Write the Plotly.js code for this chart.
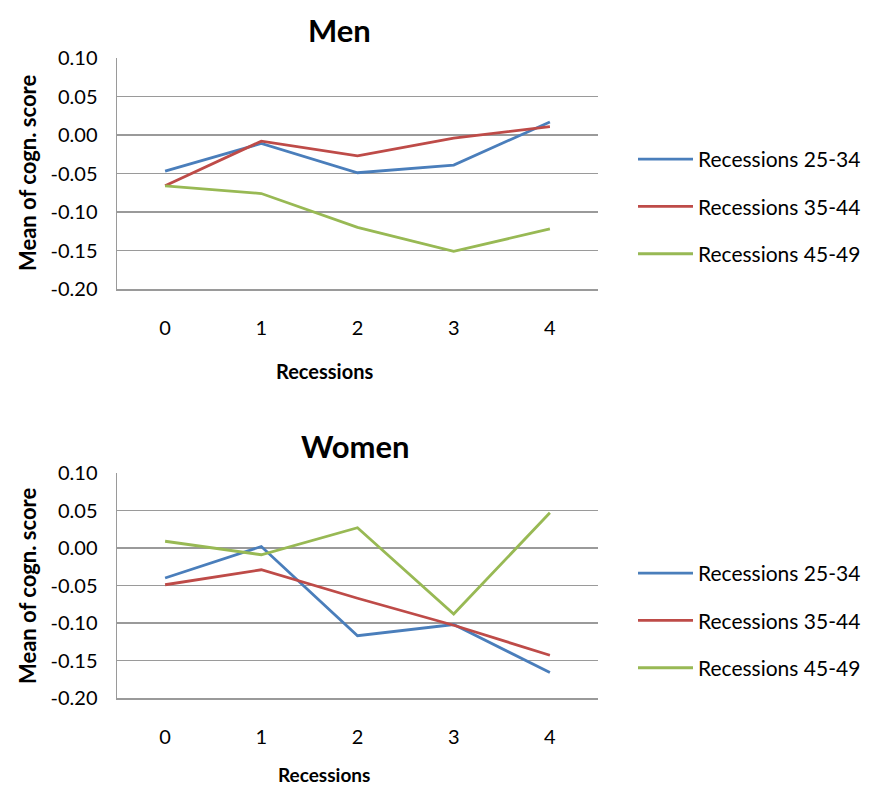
<!DOCTYPE html>
<html>
<head>
<meta charset="utf-8">
<script src="https://cdn.plot.ly/plotly-3.0.1.min.js"></script>
<style>html,body{margin:0;padding:0;background:#fff;}#chart{width:873px;height:788px;}</style>
</head>
<body>
<div id="chart"></div>
<script>
const categories = [0, 1, 2, 3, 4];
const seriesNames = ["Recessions 25-34", "Recessions 35-44", "Recessions 45-49"];
const menValues25_34 = [-0.047, -0.011, -0.049, -0.039, 0.017];
const menValues35_44 = [-0.066, -0.008, -0.027, -0.004, 0.011];
const menValues45_49 = [-0.066, -0.076, -0.120, -0.151, -0.122];
const womenValues25_34 = [-0.040, 0.002, -0.117, -0.102, -0.166];
const womenValues35_44 = [-0.049, -0.029, -0.067, -0.103, -0.143];
const womenValues45_49 = [0.009, -0.009, 0.027, -0.088, 0.047];
const yTickVals = [0.10, 0.05, 0.00, -0.05, -0.10, -0.15, -0.20];
const yTickText = ["0.10", "0.05", "0.00", "-0.05", "-0.10", "-0.15", "-0.20"];

const colors = ["#4a7ebb", "#be4b48", "#98b954"];
const FONT = "Lato, 'Open Sans', sans-serif";

function mk(y, i, xa, ya, leg) {
  return {x: categories, y: y, name: seriesNames[i], type: "scatter", mode: "lines",
    line: {color: colors[i], width: 2.8}, xaxis: xa, yaxis: ya, legend: leg,
    legendgroup: leg + i, hoverinfo: "skip"};
}
const traces = [
  mk(menValues25_34, 0, "x", "y", "legend"),
  mk(menValues35_44, 1, "x", "y", "legend"),
  mk(menValues45_49, 2, "x", "y", "legend"),
  mk(womenValues25_34, 0, "x2", "y2", "legend2"),
  mk(womenValues35_44, 1, "x2", "y2", "legend2"),
  mk(womenValues45_49, 2, "x2", "y2", "legend2")
];

const W = 873, H = 788;
const px = v => v / W, py = v => 1 - v / H;

function xax(anchor) {
  return {domain: [px(117), px(598)], range: [-0.5, 4.5], tickvals: categories,
    ticktext: categories.map(String), showgrid: false, zeroline: false,
    showline: true, linecolor: "#9a9a9a", linewidth: 1.5, ticks: "",
    ticklabelstandoff: 20, tickfont: {family: FONT, size: 20, color: "#000"},
    anchor: anchor, fixedrange: true};
}
function yax(top, bottom, anchor) {
  return {domain: [py(bottom), py(top)], range: [-0.2, 0.1], tickvals: yTickVals,
    ticktext: yTickText, showgrid: true, gridcolor: "#9a9a9a", gridwidth: 1.5,
    zeroline: false, showline: true, linecolor: "#9a9a9a", linewidth: 1.5, ticks: "",
    ticklabelstandoff: 14, tickfont: {family: FONT, size: 20, color: "#000"},
    anchor: anchor, fixedrange: true};
}

function legendAt(yTop) {
  return {x: px(633), y: py(yTop), xanchor: "left", yanchor: "top",
    font: {family: FONT, size: 21, color: "#000"}, bgcolor: "rgba(0,0,0,0)",
    traceorder: "grouped", tracegroupgap: 17, itemwidth: 55, itemclick: false};
}

const annotations = [
  {text: "<b>Men</b>", x: px(339), y: py(30), font: {family: FONT, size: 31, color: "#000"}},
  {text: "<b>Women</b>", x: px(355), y: py(446), font: {family: FONT, size: 31, color: "#000"}},
  {text: "<b>Recessions</b>", x: px(324), y: py(371), font: {family: FONT, size: 20, color: "#000"}},
  {text: "<b>Recessions</b>", x: px(324), y: py(774), font: {family: FONT, size: 19, color: "#000"}},
  {text: "<b>Mean of cogn. score</b>", x: px(27), y: py(173), textangle: -90, font: {family: FONT, size: 22, color: "#000"}},
  {text: "<b>Mean of cogn. score</b>", x: px(27), y: py(586), textangle: -90, font: {family: FONT, size: 22, color: "#000"}}
].map(a => Object.assign({xref: "paper", yref: "paper", showarrow: false, xanchor: "center", yanchor: "middle"}, a));

const layout = {
  width: W, height: H, margin: {l: 0, r: 0, t: 0, b: 0},
  paper_bgcolor: "#fff", plot_bgcolor: "#fff",
  xaxis: xax("y"), yaxis: yax(58, 289, "x"),
  xaxis2: xax("y2"), yaxis2: yax(473, 698, "x2"),
  legend: legendAt(139), legend2: legendAt(553),
  annotations: annotations, showlegend: true
};

Plotly.newPlot("chart", traces, layout, {displayModeBar: false, staticPlot: true});
</script>
</body>
</html>
